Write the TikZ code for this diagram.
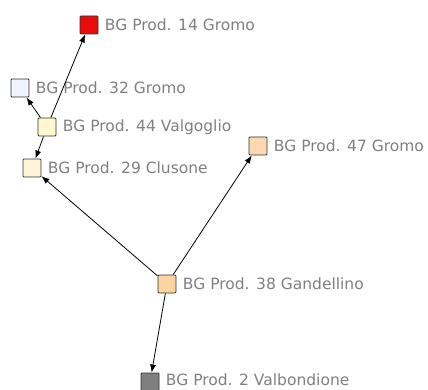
\documentclass[tikz,border=0pt]{standalone}
\usepackage{fontspec}
\setmainfont{DejaVu Sans}
\usetikzlibrary{arrows.meta}
\definecolor{lblgray}{HTML}{808080}
\definecolor{cred}{HTML}{E80C0C}
\definecolor{cblue}{HTML}{EEF4FB}
\definecolor{cyel}{HTML}{FFF7CE}
\definecolor{ccream}{HTML}{FFF3D8}
\definecolor{cpeach}{HTML}{FDD8B2}
\definecolor{corange}{HTML}{FDD3A2}
\definecolor{cgray}{HTML}{7F7F7F}

\begin{document}
\begin{tikzpicture}[x=1pt,y=-1pt,
	box/.style={shape=rectangle,draw=black!80,line width=0.9pt,minimum size=18pt,inner sep=0pt,rounded corners=1pt},
	lbl/.style={text=lblgray,font=\fontsize{15.5}{17}\selectfont,label distance=3pt},
	link/.style={-{Latex[length=8pt,width=6pt]},line width=0.8pt}]
\useasboundingbox (0,0) rectangle (428,390);
\node[box,fill=cred,label={[lbl]right:BG Prod. 14 Gromo}] (p14) at (89,25) {};
\node[box,fill=cblue,label={[lbl]right:BG Prod. 32 Gromo}] (p32) at (20,88) {};
\node[box,fill=cyel,label={[lbl]right:BG Prod. 44 Valgoglio}] (p44) at (47,127) {};
\node[box,fill=ccream,label={[lbl]right:BG Prod. 29 Clusone}] (p29) at (32,168) {};
\node[box,fill=cpeach,label={[lbl]right:BG Prod. 47 Gromo}] (p47) at (258,146) {};
\node[box,fill=corange,label={[lbl]right:BG Prod. 38 Gandellino}] (p38) at (167,284) {};
\node[box,fill=cgray,label={[lbl,yshift=2pt]right:BG Prod. 2 Valbondione}] (p2) at (150,382) {};
% links
\draw[link] (p44) -- (p14);
\draw[link] (p44) -- (p32);
\draw[link] (p44) -- (p29);
\draw[link] (p38) -- (p29);
\draw[link] (p38) -- (p47);
\draw[link] (p38) -- (p2);
\end{tikzpicture}
\end{document}
